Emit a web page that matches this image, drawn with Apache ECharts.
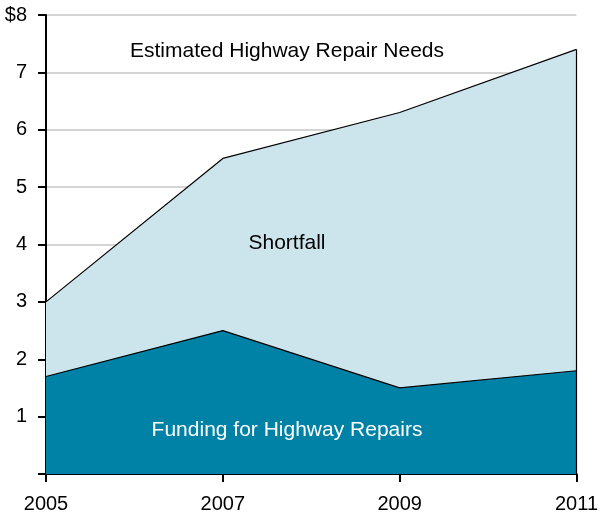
<!DOCTYPE html>
<html>
<head>
<meta charset="utf-8">
<script src="https://cdn.jsdelivr.net/npm/echarts@6/dist/echarts.min.js"></script>
<style>
  html, body { margin: 0; padding: 0; background: #fff; }
  #chart { width: 601px; height: 516px; }
</style>
</head>
<body>
<div id="chart"></div>
<script>
// Highway repair needs vs. funding, billions of dollars
const years = ['2005', '2007', '2009', '2011'];
const repairNeeds = [3.0, 5.5, 6.3, 7.4];
const repairFunding = [1.7, 2.5, 1.5, 1.8];
const yTicks = [0, 1, 2, 3, 4, 5, 6, 7, 8];

const FONT = '"Liberation Sans", Arial, Helvetica, sans-serif';

const chart = echarts.init(document.getElementById('chart'), null, { renderer: 'canvas' });

chart.setOption({
  backgroundColor: '#ffffff',
  animation: false,
  grid: { left: 46, right: 21, top: 15, bottom: 42, containLabel: false },
  xAxis: {
    type: 'category',
    data: years,
    boundaryGap: false,
    axisLine: { show: true, lineStyle: { color: '#000', width: 2 } },
    axisTick: { show: true, inside: false, length: 8, alignWithLabel: true, lineStyle: { color: '#000', width: 2 } },
    axisLabel: { color: '#000', fontFamily: FONT, fontSize: 20, margin: 20, interval: 0 },
    splitLine: { show: false }
  },
  yAxis: {
    type: 'value',
    min: yTicks[0],
    max: yTicks[yTicks.length - 1],
    interval: 1,
    axisLine: { show: true, lineStyle: { color: '#000', width: 2 } },
    axisTick: { show: true, inside: false, length: 8, lineStyle: { color: '#000', width: 2 } },
    axisLabel: {
      color: '#000', fontFamily: FONT, fontSize: 20, margin: 19,
      formatter: v => v === 0 ? '' : (v === yTicks[yTicks.length - 1] ? '$' + v : String(v))
    },
    splitLine: { show: true, lineStyle: { color: '#d4d4d4', width: 2 } }
  },
  series: [
    {
      name: 'Estimated Highway Repair Needs',
      type: 'line',
      data: repairNeeds,
      symbol: 'none',
      lineStyle: { color: '#000', width: 1.2 },
      areaStyle: { color: '#cce5ec', opacity: 1 },
      z: 2,
      markLine: {
        silent: true,
        symbol: 'none',
        label: { show: false },
        lineStyle: { color: '#000', width: 1.2, type: 'solid' },
        data: [[
          { coord: [years[years.length - 1], 0] },
          { coord: [years[years.length - 1], repairNeeds[repairNeeds.length - 1]] }
        ]]
      }
    },
    {
      name: 'Funding for Highway Repairs',
      type: 'line',
      data: repairFunding,
      symbol: 'none',
      lineStyle: { color: '#000', width: 1.2 },
      areaStyle: { color: '#0081a6', opacity: 1 },
      z: 3
    }
  ],
  graphic: [
    {
      type: 'text', x: 287, y: 51, z: 10,
      style: { text: 'Estimated Highway Repair Needs', fill: '#000', font: '21px ' + FONT, textAlign: 'center', textVerticalAlign: 'middle' }
    },
    {
      type: 'text', x: 287, y: 243, z: 10,
      style: { text: 'Shortfall', fill: '#000', font: '21px ' + FONT, textAlign: 'center', textVerticalAlign: 'middle' }
    },
    {
      type: 'text', x: 287, y: 430, z: 10,
      style: { text: 'Funding for Highway Repairs', fill: '#fff', font: '21px ' + FONT, textAlign: 'center', textVerticalAlign: 'middle' }
    }
  ]
});
</script>
</body>
</html>
